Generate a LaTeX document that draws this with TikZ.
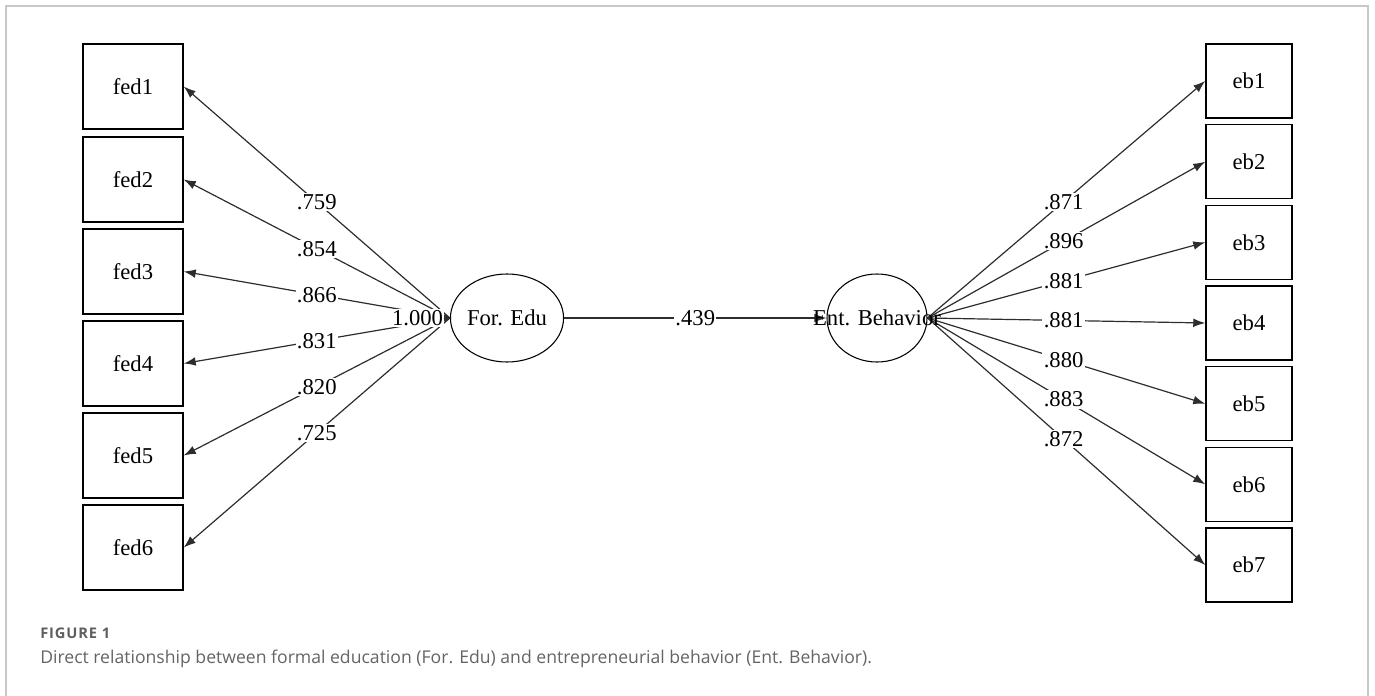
\documentclass[tikz,border=0pt]{standalone}
\usepackage{fontspec}
\setmainfont{Liberation Serif}
\newfontfamily\captionfont{Open Sans}
\usetikzlibrary{shapes.geometric,positioning,arrows.meta}
\definecolor{framegray}{RGB}{200,200,200}
\definecolor{linegray}{RGB}{45,45,45}
\definecolor{captiongray}{RGB}{95,95,95}
\definecolor{captiontext}{RGB}{100,100,100}
\tikzstyle{item}=[draw, line width=1.1pt, minimum width=75pt, minimum height=64pt, inner sep=0pt, font=\fontsize{17}{20}\selectfont]
\tikzstyle{smallitem}=[item, minimum width=64.5pt, minimum height=55.5pt]
\tikzstyle{latent}=[ellipse, draw, line width=.8pt, minimum width=75pt, minimum height=66pt, inner sep=0pt, font=\fontsize{17}{20}\selectfont]
\tikzstyle{loadline}=[-{Latex[length=9pt,width=6.5pt]}, line width=.9pt, color=linegray]
\tikzstyle{loading}=[fill=white, inner sep=1pt, text=black, font=\fontsize{17}{20}\selectfont]
\tikzset{x=0.75pt}
\tikzset{y=-0.75pt}

\begin{document}
\begin{tikzpicture}
  \useasboundingbox (0,0) rectangle (1375,696);
  \draw[framegray, line width=1pt] (6,696) -- (6,6) -- (1368,6) -- (1368,696);

  %% Formal education items
  \draw (133,86.5) node[item] (fed1) {fed1};
  \draw (133,179.5) node[item] (fed2) {fed2};
  \draw (133,271.5) node[item] (fed3) {fed3};
  \draw (133,363.5) node[item] (fed4) {fed4};
  \draw (133,455.5) node[item] (fed5) {fed5};
  \draw (133,547.5) node[item] (fed6) {fed6};

  %% Entrepreneurial behavior items
  \draw (1249,81) node[smallitem] (eb1) {eb1};
  \draw (1249,161.7) node[smallitem] (eb2) {eb2};
  \draw (1249,242.3) node[smallitem] (eb3) {eb3};
  \draw (1249,323) node[smallitem] (eb4) {eb4};
  \draw (1249,403.7) node[smallitem] (eb5) {eb5};
  \draw (1249,484.3) node[smallitem] (eb6) {eb6};
  \draw (1249,565) node[smallitem] (eb7) {eb7};

  %% Latent variables
  \draw (507,318) node[latent] (ForEdu) {For. Edu};
  \draw (877,318) node[latent] (EntBeh) {};

  \draw[loadline] (ForEdu.west) -- (fed1.east) node[pos=.5, loading] {.759};
  \draw[loadline] (ForEdu.west) -- (fed2.east) node[pos=.5, loading] {.854};
  \draw[loadline] (ForEdu.west) -- (fed3.east) node[pos=.5, loading] {.866};
  \draw[loadline] (ForEdu.west) -- (fed4.east) node[pos=.5, loading] {.831};
  \draw[loadline] (ForEdu.west) -- (fed5.east) node[pos=.5, loading] {.820};
  \draw[loadline] (ForEdu.west) -- (fed6.east) node[pos=.5, loading] {.725};

  \draw[loadline] (EntBeh.east) -- (eb1.west) node[pos=.49, loading] {.871};
  \draw[loadline] (EntBeh.east) -- (eb2.west) node[pos=.49, loading] {.896};
  \draw[loadline] (EntBeh.east) -- (eb3.west) node[pos=.49, loading] {.881};
  \draw[loadline] (EntBeh.east) -- (eb4.west) node[pos=.49, loading] {.881};
  \draw[loadline] (EntBeh.east) -- (eb5.west) node[pos=.49, loading] {.880};
  \draw[loadline] (EntBeh.east) -- (eb6.west) node[pos=.49, loading] {.883};
  \draw[loadline] (EntBeh.east) -- (eb7.west) node[pos=.49, loading] {.872};

  %% Structural path
  \draw[loadline] (ForEdu.east) -- (EntBeh.west) node[midway, loading] {.439};
  \draw (EntBeh.center) node[font=\fontsize{17}{20}\selectfont] (EntBehText) {Ent. Behavior};

  \coordinate (fix) at (396,318);
  \draw[-{Latex[length=5pt,width=4.5pt]}, line width=.9pt, color=linegray] (fix) -- (ForEdu.west) node[pos=.4, loading] {1.000};

  %% Caption
  \draw (40,633) node[anchor=west, inner sep=0pt, text=captiongray, font=\captionfont\bfseries\fontsize{11}{13}\selectfont\addfontfeature{LetterSpace=6}] (figlabel) {FIGURE 1};
  \draw (40,659) node[anchor=west, inner sep=0pt, text=captiontext, font=\captionfont\fontsize{13.2}{16}\selectfont] (caption) {Direct relationship between formal education (For. Edu) and entrepreneurial behavior (Ent. Behavior).};
\end{tikzpicture}
\end{document}
